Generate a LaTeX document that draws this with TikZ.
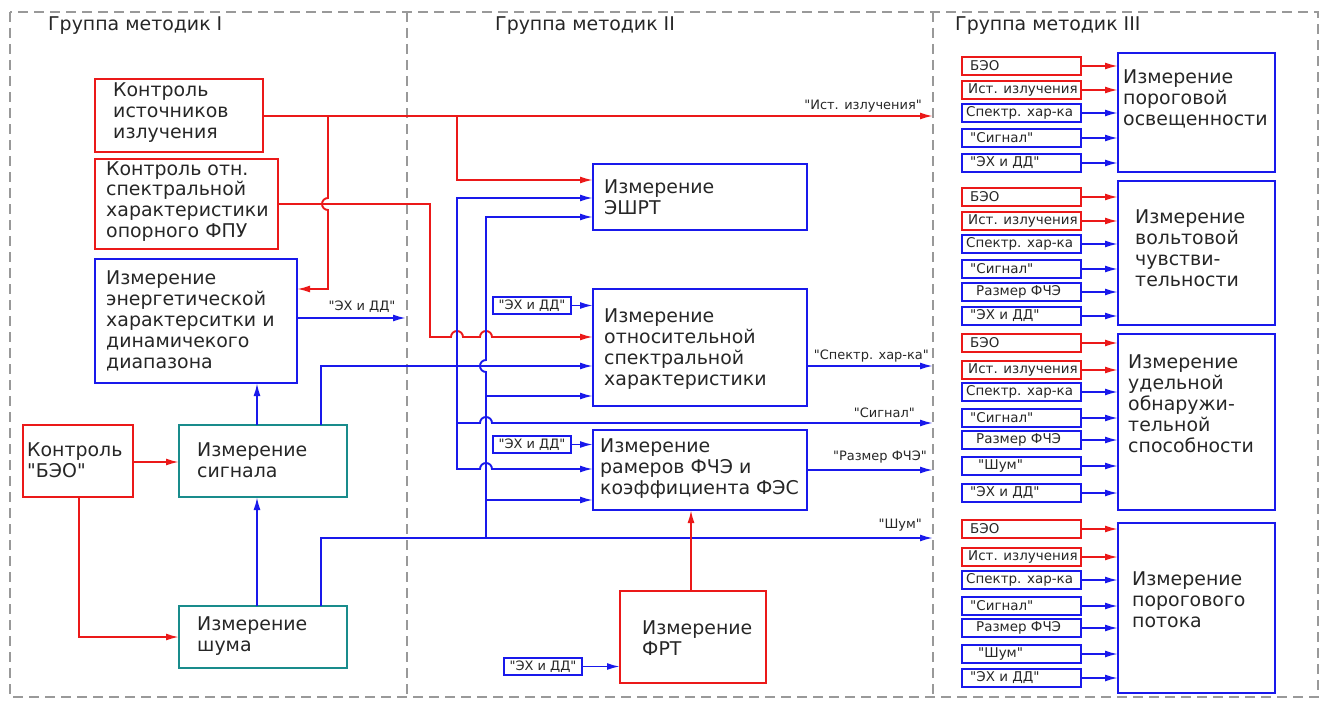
\documentclass[tikz,border=0pt]{standalone}
\usepackage{fontspec}
\setmainfont{DejaVu Sans}[Ligatures=TeXOff]
\usetikzlibrary{arrows.meta}
\definecolor{mred}{RGB}{235,25,25}
\definecolor{mblue}{RGB}{25,25,235}
\definecolor{mteal}{RGB}{25,140,140}
\newcommand\drawbox[6]{\node[#1,anchor=north west,minimum width={(#4-#2)*1bp},minimum height={(#5-#3)*1bp}] (#6) at (#2,#3) {};}
\newcommand\rowin[6]{%
  \node[#4s,anchor=north west,minimum width=119bp,minimum height=18bp] (#1) at (962,#3) {};
  \node[st] (#1t) at (962+#6,#3+9) {#5};
  \draw[#4l,-tip] (#1.east) -- (#2.west |- #1.east);
}
\begin{document}
\begin{tikzpicture}[x=1bp,y=-1bp,
  -tip/.style={-{Latex[length=13bp,width=7bp]}},
  tip-tip/.style={{Latex[length=13bp,width=7bp]}-{Latex[length=13bp,width=7bp]}},
  box/.style={draw, line width=2.6bp, rectangle, inner sep=0pt, outer sep=0pt},
  rbox/.style={box, draw=mred},
  bbox/.style={box, draw=mblue},
  tbox/.style={box, draw=mteal},
  sbx/.style={draw, line width=2.3bp, rectangle, inner sep=0pt, outer sep=0pt},
  rs/.style={sbx, draw=mred},
  bs/.style={sbx, draw=mblue},
  rl/.style={draw=mred, line width=1.9bp},
  bl/.style={draw=mblue, line width=1.9bp},
  tt/.style={font=\fontsize{19}{21}\selectfont, align=left, inner sep=0pt, anchor=west, text=black!85},
  st/.style={font=\fontsize{13.5}{15}\selectfont, inner sep=0pt, anchor=west, text=black!85},
  lt/.style={font=\fontsize{13}{15}\selectfont, inner sep=0pt, text=black!85},
  frame/.style={draw=black!40, line width=1.2bp, dash pattern=on 10bp off 6bp}
]
\useasboundingbox (0,0) rectangle (1325,700);
% frames
\draw[frame] (10,12) rectangle (1318,697);
\draw[frame] (407,12) -- (407,697);
\draw[frame] (933,12) -- (933,697);
\node[tt] (g1) at (48,26) {Группа методик I};
\node[tt] (g2) at (495,26) {Группа методик II};
\node[tt] (g3) at (955,26) {Группа методик III};
% left group
\drawbox{rbox}{95}{79}{263}{152}{A}
\drawbox{rbox}{95}{159}{278}{249}{B}
\drawbox{bbox}{95}{259}{297}{383}{C}
\drawbox{rbox}{23}{425}{133}{497}{D}
\drawbox{tbox}{179}{425}{347}{497}{E}
\drawbox{tbox}{179}{606}{347}{668}{F}
\node[tt] (At) at (113,112.5) {Контроль\\источников\\излучения};
\node[tt] (Bt) at (106,201.5) {Контроль отн.\\спектральной\\характеристики\\опорного ФПУ};
\node[tt] (Ct) at (106,321) {Измерение\\энергетической\\характерситки и\\динамичекого\\диапазона};
\node[tt] (Dt) at (27,460.5) {Контроль\\"БЭО"};
\node[tt] (Et) at (197,460) {Измерение\\сигнала};
\node[tt] (Ft) at (197,636) {Измерение\\шума};
% middle group
\drawbox{bbox}{593}{164}{807}{230}{G}
\drawbox{bbox}{593}{289}{807}{406}{H}
\drawbox{bbox}{593}{430}{807}{510}{I}
\drawbox{rbox}{620}{591}{766}{683}{J}
\node[tt] (Gt) at (604,197.5) {Измерение\\ЭШРТ};
\node[tt] (Ht) at (604,349) {Измерение\\относительной\\спектральной\\характеристики};
\node[tt] (It) at (600,468.5) {Измерение\\рамеров ФЧЭ и\\коэффициента ФЭС};
\node[tt] (Jt) at (642,638) {Измерение\\ФРТ};
\node[bs,anchor=north west,minimum width=78bp,minimum height=17bp,font=\fontsize{13}{15}\selectfont,text=black!85] (s1) at (493,297) {"ЭХ и ДД"};
\node[bs,anchor=north west,minimum width=78bp,minimum height=17bp,font=\fontsize{13}{15}\selectfont,text=black!85] (s2) at (493,436) {"ЭХ и ДД"};
\node[bs,anchor=north west,minimum width=78bp,minimum height=17bp,font=\fontsize{13}{15}\selectfont,text=black!85] (s3) at (504,658) {"ЭХ и ДД"};
% free ends
\coordinate (o1) at (933,116);
\coordinate (o2) at (933,366);
\coordinate (o3) at (933,423);
\coordinate (o4) at (933,470);
\coordinate (o5) at (933,538);
\coordinate (eo) at (406,318);
\coordinate (j1) at (328,116);
\coordinate (j2) at (457,116);
% connectors
\draw[rl,-tip] (A.east |- 0,116) -- (o1);
\draw[rl,-tip] (j1) -- (328,198) arc(90:270:6bp) -- (328,289) -- (C.east |- 0,289);
\draw[rl,-tip] (j2) -- (457,180) -- (G.west |- 0,180);
\draw[rl,-tip] (B.east |- 0,204) -- (430,204) -- (430,337) -- (451,337) arc(180:0:6bp) -- (480,337) arc(180:0:6bp) -- (H.west |- 0,337);
\draw[bl,-tip] (C.east |- 0,318) -- (eo);
\draw[bl,-tip] (321,0 |- E.north) -- (321,366) -- (H.west |- 0,366);
\draw[bl,tip-tip] (G.west |- 0,198) -- (457,198) -- (457,469) -- (480,469) arc(180:0:6bp) -- (I.west |- 0,469);
\draw[bl,-tip] (457,423) -- (480,423) arc(180:0:6bp) -- (o3);
\draw[bl,-tip] (486,538) -- (486,372) arc(270:90:6bp) -- (486,217) -- (G.west |- 0,217);
\draw[bl,-tip] (486,396) -- (H.west |- 0,396);
\draw[bl,-tip] (486,500) -- (I.west |- 0,500);
\draw[bl,-tip] (321,0 |- F.north) -- (321,538) -- (o5);
\draw[bl,-tip] (257,0 |- E.north) -- (257,0 |- C.south);
\draw[bl,-tip] (257,0 |- F.north) -- (257,0 |- E.south);
\draw[rl,-tip] (D.east |- 0,462) -- (E.west |- 0,462);
\draw[rl,-tip] (79,0 |- D.south) -- (79,637) -- (F.west |- 0,637);
\draw[bl,-tip] (H.east |- 0,366) -- (o2);
\draw[bl,-tip] (I.east |- 0,470) -- (o4);
\draw[bl,-tip] (s1.east) -- (H.west |- s1.east);
\draw[bl,-tip] (s2.east) -- (I.west |- s2.east);
\draw[bl,-tip] (s3.east) -- (J.west |- s3.east);
\draw[rl,-tip] (691,0 |- J.north) -- (691,0 |- I.south);
% line labels
\node[lt,anchor=east] (l1) at (922,106) {"Ист. излучения"};
\node[lt] (l0) at (362,307) {"ЭХ и ДД"};
\node[lt,anchor=east] (l2) at (929,356) {"Спектр. хар-ка"};
\node[lt,anchor=east] (l3) at (915,413) {"Сигнал"};
\node[lt,anchor=east] (l4) at (927,457) {"Размер ФЧЭ"};
\node[lt,anchor=east] (l5) at (922,525) {"Шум"};
% right group
\drawbox{bbox}{1118}{53}{1275}{172}{K1}
\drawbox{bbox}{1118}{181}{1275}{325}{K2}
\drawbox{bbox}{1118}{334}{1275}{510}{K3}
\drawbox{bbox}{1118}{523}{1275}{693}{K4}
\node[tt] (K1t) at (1123,99) {Измерение\\пороговой\\освещенности};
\node[tt] (K2t) at (1135,248.5) {Измерение\\вольтовой\\чувстви-\\тельности};
\node[tt] (K3t) at (1128,403.5) {Измерение\\удельной\\обнаружи-\\тельной\\способности};
\node[tt] (K4t) at (1132,599.5) {Измерение\\порогового\\потока};
\rowin{a1}{K1}{57}{r}{БЭО}{8}
\rowin{a2}{K1}{81}{r}{Ист. излучения}{6}
\rowin{a3}{K1}{104}{b}{Спектр. хар-ка}{4}
\rowin{a4}{K1}{129}{b}{"Сигнал"}{8}
\rowin{a5}{K1}{154}{b}{"ЭХ и ДД"}{8}
\rowin{b1}{K2}{188}{r}{БЭО}{8}
\rowin{b2}{K2}{212}{r}{Ист. излучения}{6}
\rowin{b3}{K2}{235}{b}{Спектр. хар-ка}{4}
\rowin{b4}{K2}{260}{b}{"Сигнал"}{8}
\rowin{b5}{K2}{283}{b}{Размер ФЧЭ}{14}
\rowin{b6}{K2}{307}{b}{"ЭХ и ДД"}{8}
\rowin{c1}{K3}{334}{r}{БЭО}{8}
\rowin{c2}{K3}{361}{r}{Ист. излучения}{6}
\rowin{c3}{K3}{383}{b}{Спектр. хар-ка}{4}
\rowin{c4}{K3}{409}{b}{"Сигнал"}{8}
\rowin{c5}{K3}{431}{b}{Размер ФЧЭ}{14}
\rowin{c6}{K3}{457}{b}{"Шум"}{16}
\rowin{c7}{K3}{484}{b}{"ЭХ и ДД"}{8}
\rowin{d1}{K4}{520}{r}{БЭО}{8}
\rowin{d2}{K4}{548}{r}{Ист. излучения}{6}
\rowin{d3}{K4}{571}{b}{Спектр. хар-ка}{4}
\rowin{d4}{K4}{597}{b}{"Сигнал"}{8}
\rowin{d5}{K4}{619}{b}{Размер ФЧЭ}{14}
\rowin{d6}{K4}{645}{b}{"Шум"}{16}
\rowin{d7}{K4}{669}{b}{"ЭХ и ДД"}{8}
\end{tikzpicture}
\end{document}
